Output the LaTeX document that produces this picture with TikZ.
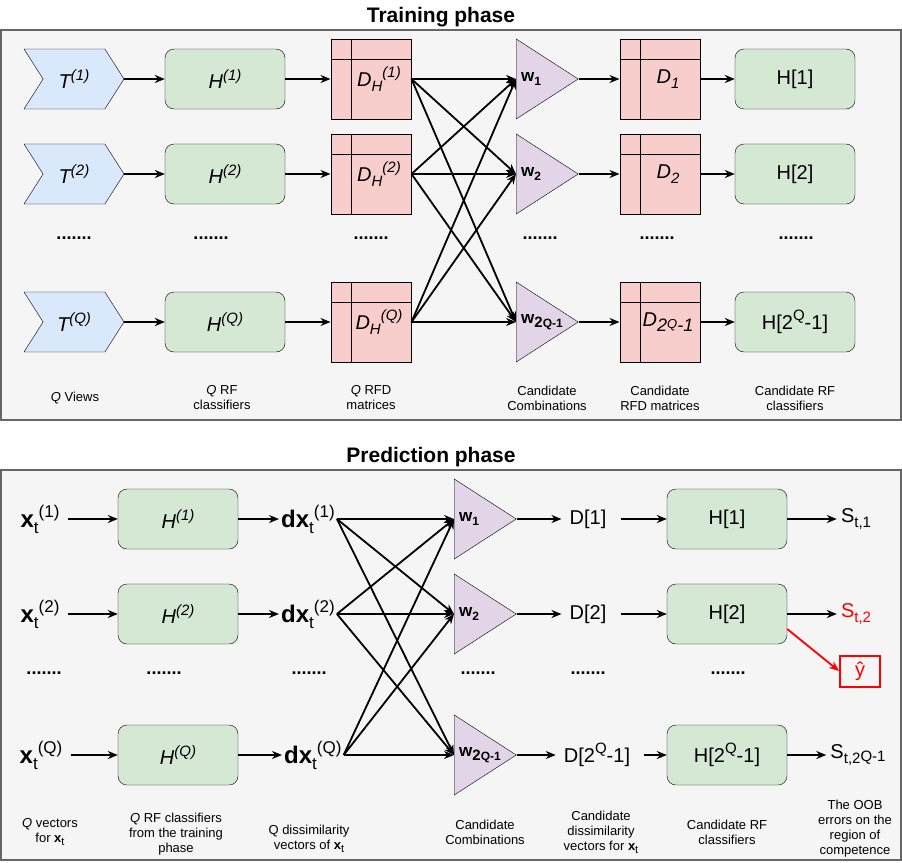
\documentclass[tikz,border=0pt]{standalone}
\usepackage{fontspec}
\setmainfont{Liberation Sans}
\usetikzlibrary{shapes.geometric,shapes.symbols,arrows.meta}

\newcommand{\tsup}[2][15]{\raisebox{0.42em}{\fontsize{#1}{#1}\selectfont #2}}
\newcommand{\tsub}[2][15]{\raisebox{-0.25em}{\fontsize{#1}{#1}\selectfont #2}}

\begin{document}
\begin{tikzpicture}[x=1pt,y=-1pt,
	arr/.style={line width=1.8pt,-{Stealth[length=10pt,width=8pt]}},
	frame/.style={draw=bordergray,line width=2pt,fill=framegray},
	title/.style={font=\fontsize{21}{21}\selectfont\bfseries},
	view/.style={signal,signal from=west,signal to=east,signal pointer angle=115,draw,fill=viewblue,minimum width=100pt,minimum height=60pt,inner sep=0pt,font=\fontsize{20}{20}\selectfont\itshape},
	rf/.style={rectangle,rounded corners=9pt,draw,fill=rfgreen,minimum width=120pt,minimum height=60pt,inner sep=0pt,font=\fontsize{20}{20}\selectfont},
	rfd/.style={rectangle,draw,line width=1pt,fill=rfdred,minimum size=80pt,inner sep=0pt,font=\fontsize{20}{20}\selectfont\itshape,
		path picture={\draw[line width=1pt] ([xshift=20pt]path picture bounding box.north west) -- ([xshift=20pt]path picture bounding box.south west)
			([yshift=-20pt]path picture bounding box.north west) -- ([yshift=-20pt]path picture bounding box.north east);}},
	comb/.style={isosceles triangle,isosceles triangle stretches,shape border rotate=0,draw,fill=combpurple,minimum width=80pt,minimum height=62pt,inner sep=0pt,anchor=west},
	wlab/.style={anchor=west,inner sep=0pt,font=\fontsize{17}{17}\selectfont\bfseries},
	dots/.style={font=\fontsize{18}{18}\selectfont\bfseries},
	captext/.style={align=center,font=\fontsize{13}{15}\selectfont},
	vec/.style={inner sep=2pt,font=\fontsize{24}{24}\selectfont},
	dvec/.style={inner sep=8pt,font=\fontsize{20}{20}\selectfont},
	score/.style={inner sep=4pt,font=\fontsize{20}{20}\selectfont}
	]
	\definecolor{viewblue}{HTML}{DAE8FC}
	\definecolor{rfgreen}{HTML}{D5E8D4}
	\definecolor{rfdred}{HTML}{F8CECC}
	\definecolor{combpurple}{HTML}{E1D5E7}
	\definecolor{framegray}{HTML}{F5F5F5}
	\definecolor{bordergray}{HTML}{666666}
	\useasboundingbox (0,0) rectangle (902,862);
	
	% frames
	\draw[frame] (1,30) rectangle (901,420);
	\draw[frame] (1,470) rectangle (901,860);
	\node[title] (ttrain) at (441,17) {Training phase};
	\node[title] (tpred) at (431,457) {Prediction phase};
	
	%%% Training phase
	% views
	\node[view] (t1) at (74,79) {T\tsup{(1)}};
	\node[view] (t2) at (74,174) {T\tsup{(2)}};
	\node[view] (tq) at (74,322) {T\tsup{(Q)}};
	% RF classifiers
	\node[rf] (h1) at (225,79) {\itshape H\tsup{(1)}};
	\node[rf] (h2) at (225,174) {\itshape H\tsup{(2)}};
	\node[rf] (hq) at (225,322) {\itshape H\tsup{(Q)}};
	% RFD matrices
	\node[rfd] (dh1) at (371,79) {\hspace*{16pt}D\tsub{H}\tsup{(1)}};
	\node[rfd] (dh2) at (371,174) {\hspace*{16pt}D\tsub{H}\tsup{(2)}};
	\node[rfd] (dhq) at (371,322) {\hspace*{16pt}D\tsub{H}\tsup{(Q)}};
	% combinations
	\node[comb] (w1) at (516,79) {};
	\node[comb] (w2) at (516,174) {};
	\node[comb] (wq) at (516,322) {};
	\node[wlab] (w1t) at ([xshift=5pt]w1.west) {w\tsub[12]{1}};
	\node[wlab] (w2t) at ([xshift=5pt]w2.west) {w\tsub[12]{2}};
	\node[wlab] (wqt) at ([xshift=5pt]wq.west) {w\tsub[15]{2\fontsize{12}{12}\selectfont Q-1}};
	% candidate matrices
	\node[rfd] (d1) at (660,79) {\hspace*{16pt}D\tsub{1}};
	\node[rfd] (d2) at (660,174) {\hspace*{16pt}D\tsub{2}};
	\node[rfd] (dq) at (660,322) {\hspace*{16pt}D\tsub[18]{2\raisebox{3pt}{\fontsize{13}{13}\selectfont Q}-1}};
	% candidate classifiers
	\node[rf] (hc1) at (795,79) {H[1]};
	\node[rf] (hc2) at (795,174) {H[2]};
	\node[rf] (hcq) at (795,322) {H[2\tsup{Q}-1]};
	
	\foreach \i in {1,2,q} {
		\draw[arr] (t\i) -- (h\i);
		\draw[arr] (h\i) -- (dh\i);
		\draw[arr] (w\i.east) -- (d\i);
		\draw[arr] (d\i) -- (hc\i);
		\foreach \j in {1,2,q}
			\draw[arr] (dh\i.east) -- (w\j.west);
	}
	
	% dots
	\node[dots] (tdot1) at (74,238) {.......};
	\node[dots] (tdot2) at (211,238) {.......};
	\node[dots] (tdot3) at (371,238) {.......};
	\node[dots] (tdot4) at (540,238) {.......};
	\node[dots] (tdot5) at (657,238) {.......};
	\node[dots] (tdot6) at (796,238) {.......};
	
	% labels
	\node[captext] (tcap1) at (75,398) {\textit{Q} Views};
	\node[captext] (tcap2) at (222,398) {\textit{Q} RF\\classifiers};
	\node[captext] (tcap3) at (371,398) {\textit{Q} RFD\\matrices};
	\node[captext] (tcap4) at (547,398) {Candidate\\Combinations};
	\node[captext] (tcap5) at (660,398) {Candidate\\RFD matrices};
	\node[captext] (tcap6) at (795,398) {Candidate RF\\classifiers};
	
	%%% Prediction phase
	% test vectors
	\node[vec] (x1) at (40,519) {\textbf{x}\tsub[17]{t}\tsup[17]{(1)}};
	\node[vec] (x2) at (40,614) {\textbf{x}\tsub[17]{t}\tsup[17]{(2)}};
	\node[vec] (xq) at (41,755) {\textbf{x}\tsub[17]{t}\tsup[17]{(Q)}};
	% RF classifiers
	\node[rf] (ph1) at (178,519) {\itshape H\tsup{(1)}};
	\node[rf] (ph2) at (178,614) {\itshape H\tsup{(2)}};
	\node[rf] (phq) at (178,755) {\itshape H\tsup{(Q)}};
	% dissimilarity vectors
	\node[vec,anchor=west] (dx1) at (279,519) {\textbf{dx}\tsub[17]{t}\tsup[17]{(1)}};
	\node[vec,anchor=west] (dx2) at (279,614) {\textbf{dx}\tsub[17]{t}\tsup[17]{(2)}};
	\node[vec,anchor=west] (dxq) at (282,755) {\textbf{dx}\tsub[17]{t}\tsup[17]{(Q)}};
	% combinations
	\node[comb] (pw1) at (454,519) {};
	\node[comb] (pw2) at (454,614) {};
	\node[comb] (pwq) at (454,755) {};
	\node[wlab] (pw1t) at ([xshift=5pt]pw1.west) {w\tsub[12]{1}};
	\node[wlab] (pw2t) at ([xshift=5pt]pw2.west) {w\tsub[12]{2}};
	\node[wlab] (pwqt) at ([xshift=5pt]pwq.west) {w\tsub[15]{2\fontsize{12}{12}\selectfont Q-1}};
	% candidate dissimilarity vectors
	\node[dvec] (pd1) at (588,519) {D[1]};
	\node[dvec] (pd2) at (588,614) {D[2]};
	\node[dvec] (pdq) at (597,755) {D[2\tsup{Q}-1]};
	% candidate classifiers
	\node[rf] (phc1) at (727,519) {H[1]};
	\node[rf] (phc2) at (727,614) {H[2]};
	\node[rf] (phcq) at (727,755) {H[2\tsup{Q}-1]};
	% OOB errors
	\node[score] (s1) at (856,519) {S\tsub{t,1}};
	\node[score,text=red] (s2) at (856,614) {S\tsub{t,2}};
	\node[score] (sq) at (858,755) {S\tsub{t,2\raisebox{2pt}{Q-1}}};
	\node[draw=red,line width=2pt,text=red,minimum width=40pt,minimum height=31pt,inner sep=0pt,font=\fontsize{20}{20}\selectfont] (yhat) at (860,671) {ŷ};
	
	\foreach \i in {1,2,q} {
		\draw[arr,shorten <=6pt] (x\i) -- (ph\i);
		\draw[arr] (ph\i) -- (dx\i);
		\draw[arr] (pw\i.east) -- (pd\i);
		\draw[arr,shorten <=6pt] (pd\i) -- (phc\i);
		\draw[arr] (phc\i) -- (s\i);
		\foreach \j in {1,2,q}
			\draw[arr] (dx\i.east) -- (pw\j.west);
	}
	\draw[arr,red] ([yshift=-15pt]phc2.east) -- (yhat.west);
	
	% dots
	\node[dots] (pdot1) at (44,673) {.......};
	\node[dots] (pdot2) at (164,673) {.......};
	\node[dots] (pdot3) at (309,673) {.......};
	\node[dots] (pdot4) at (478,673) {.......};
	\node[dots] (pdot5) at (588,673) {.......};
	\node[dots] (pdot6) at (728,673) {.......};
	
	% labels
	\node[captext] (pcap1) at (50,832) {\textit{Q} vectors\\for \textbf{x}\tsub[11]{t}};
	\node[captext] (pcap2) at (176,834) {\textit{Q} RF classifiers\\from the training\\phase};
	\node[captext] (pcap3) at (309,839) {Q dissimilarity\\vectors of \textbf{x}\tsub[11]{t}};
	\node[captext] (pcap4) at (485,832) {Candidate\\Combinations};
	\node[captext] (pcap5) at (601,832) {Candidate\\dissimilarity\\vectors for \textbf{x}\tsub[11]{t}};
	\node[captext] (pcap6) at (727,832) {Candidate RF\\classifiers};
	\node[captext] (pcap7) at (855,829) {The OOB\\errors on the\\region of\\competence};
\end{tikzpicture}
\end{document}
